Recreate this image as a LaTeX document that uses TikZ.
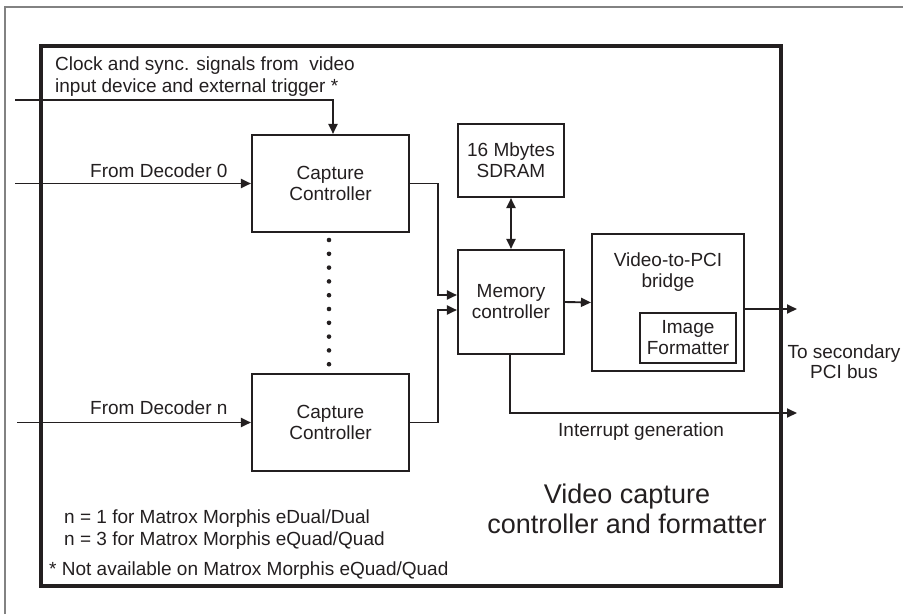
\documentclass[tikz,border=0pt]{standalone}
\usepackage{fontspec}
\setmainfont{Liberation Sans}
\usetikzlibrary{arrows.meta,calc}
\definecolor{ink}{RGB}{35,31,32}
\definecolor{framegray}{RGB}{130,130,130}
\begin{document}
\begin{tikzpicture}[x=1pt,y=-1pt,
  every node/.style={text=ink},
  txt/.style={font=\fontsize{19}{21}\selectfont, inner sep=0pt},
  blk/.style={draw=ink, line width=2.1pt, inner sep=0pt, align=center,
              font=\fontsize{19}{21}\selectfont},
  wire/.style={draw=ink, line width=1.9pt},
  arr/.style={wire, -{Triangle[length=10pt,width=9pt]}},
  darr/.style={wire, {Triangle[length=10pt,width=9pt]}-{Triangle[length=10pt,width=9pt]}},
  dotmark/.style={circle, fill=ink, inner sep=0pt, minimum size=4.6pt}
]
\useasboundingbox (0,0) rectangle (903,614);

% page frame (top and left edges)
\draw[framegray, line width=1.5pt] (5,614) -- (5,7) -- (903,7);

% enclosing block
\draw[ink, line width=4pt] (41,46) rectangle (781,586);

% blocks
\node[blk, minimum width=157, minimum height=97] (cc1) at (330.5,183.5) {Capture\\Controller};
\node[blk, minimum width=157, minimum height=97] (cc2) at (330.5,422.5) {Capture\\Controller};
\node[blk, minimum width=106, minimum height=104] (mc) at (511,302) {Memory\\controller};
\node[blk, minimum width=106, minimum height=73] (sdram) at (511,160.5) {16 Mbytes\\SDRAM};
\node[blk, minimum width=152, minimum height=137] (bridge) at (668,302.5) {};
\node[txt, align=center, anchor=north] (bridgelbl) at ($(bridge.north)+(0,20)$) {Video-to-PCI\\bridge};
\node[blk, minimum width=96, minimum height=50] (fmt) at (688,338) {Image\\Formatter};

% free ends of the external signals
\coordinate (clkin) at (15,100);
\coordinate (dec0) at (15,183.5);
\coordinate (decn) at (17,422.5);
\coordinate (pciout) at (797,309);
\coordinate (intout) at (797,413);

% connectors
\draw[arr] (clkin) -| ($(cc1.north)+(2.5,0)$);
\draw[arr] (dec0) -- (cc1.west);
\draw[arr] (decn) -- (cc2.west);
\draw[arr] (cc1.east) -- ++(28,0) |- ($(mc.west)+(0,-7)$);
\draw[arr] (cc2.east) -- ++(28,0) |- ($(mc.west)+(0,8)$);
\draw[darr] (sdram.south) -- (mc.north);
\draw[arr] (mc.east) -- (bridge.west);
\draw[arr] (bridge.east |- pciout) -- (pciout);
\draw[arr] ($(mc.south)+(-1,0)$) |- (intout);

% ellipsis between the capture controllers
\foreach \i in {0,...,9} \node[dotmark] (dot\i) at (329,240+13.8*\i) {};

% labels
\node[txt, anchor=base west] (clk1) at (55,70) {Clock and sync. signals from \ video};
\node[txt, anchor=base west] (clk2) at (55,92) {input device and external trigger *};
\node[txt, anchor=base west] (d0lbl) at (90,177) {From Decoder 0};
\node[txt, anchor=base west] (dnlbl) at (90,414) {From Decoder n};
\node[txt, anchor=base west] (intlbl) at (558,436) {Interrupt generation};
\node[txt, anchor=base] (pci1) at (844,358) {To secondary};
\node[txt, anchor=base] (pci2) at (844,378) {PCI bus};
\node[txt, anchor=base west] (n1) at (64,523) {n = 1 for Matrox Morphis eDual/Dual};
\node[txt, anchor=base west] (n3) at (64,545) {n = 3 for Matrox Morphis eQuad/Quad};
\node[txt, anchor=base west] (na) at (49,575) {* Not available on Matrox Morphis eQuad/Quad};
\node[font=\fontsize{27}{30}\selectfont, inner sep=0pt, anchor=base] (t1) at (627,503) {Video capture};
\node[font=\fontsize{27}{30}\selectfont, inner sep=0pt, anchor=base] (t2) at (627,533) {controller and formatter};
\end{tikzpicture}
\end{document}
